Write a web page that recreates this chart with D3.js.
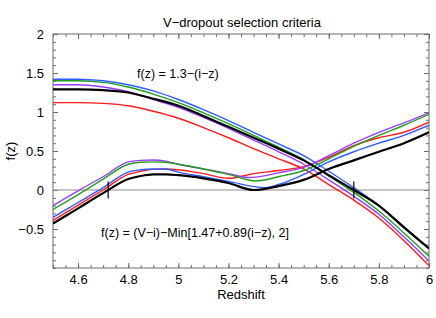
<!DOCTYPE html>
<html><head><meta charset="utf-8">
<script src="https://cdn.jsdelivr.net/npm/d3@7/dist/d3.min.js"></script>
<style>
body{margin:0;background:#fff;}
svg text{font-family:"Liberation Sans",Arial,Helvetica,sans-serif;fill:#000;}
</style></head>
<body><svg id="c" width="436" height="318"></svg>
<script>
// ---- data ----
const title = "V\u2212dropout selection criteria";
const xLabel = "Redshift";
const yLabel = "f(z)";
const xTicks = [4.6, 4.8, 5, 5.2, 5.4, 5.6, 5.8, 6];
const yTicks = [-0.5, 0, 0.5, 1, 1.5, 2];
const labelUpper = "f(z) = 1.3\u2212(i\u2212z)";
const labelLower = "f(z) = (V\u2212i)\u2212Min[1.47+0.89(i\u2212z), 2]";

// upper family: f = 1.3-(i-z)  [z, f]
const upperRed    = [[4.5,1.12],[4.6,1.12],[4.7,1.11],[4.8,1.08],[4.9,1.01],[5.0,0.92],[5.1,0.80],[5.2,0.67],[5.3,0.53],[5.4,0.40],[5.5,0.27],[5.6,0.07],[5.7,-0.13],[5.8,-0.36],[5.9,-0.65],[6.0,-0.97]];
const upperPurple = [[4.5,1.35],[4.6,1.35],[4.7,1.32],[4.8,1.26],[4.9,1.16],[5.0,1.06],[5.1,0.93],[5.2,0.79],[5.3,0.64],[5.4,0.49],[5.5,0.33],[5.6,0.13],[5.7,-0.08],[5.8,-0.31],[5.9,-0.60],[6.0,-0.91]];
const upperGreen  = [[4.5,1.40],[4.6,1.40],[4.7,1.38],[4.8,1.32],[4.9,1.23],[5.0,1.12],[5.1,0.99],[5.2,0.85],[5.3,0.70],[5.4,0.55],[5.5,0.39],[5.6,0.18],[5.7,-0.03],[5.8,-0.27],[5.9,-0.55],[6.0,-0.85]];
const upperBlue   = [[4.5,1.42],[4.6,1.42],[4.7,1.40],[4.8,1.35],[4.9,1.27],[5.0,1.16],[5.1,1.03],[5.2,0.89],[5.3,0.74],[5.4,0.59],[5.5,0.44],[5.6,0.24],[5.7,0.03],[5.8,-0.20],[5.9,-0.47],[6.0,-0.75]];
const upperBlack  = [[4.5,1.29],[4.6,1.29],[4.7,1.28],[4.8,1.25],[4.9,1.17],[5.0,1.08],[5.1,0.95],[5.2,0.81],[5.3,0.67],[5.4,0.53],[5.5,0.38],[5.6,0.19],[5.7,0.0],[5.8,-0.20],[5.9,-0.48],[6.0,-0.75]];

// lower family: f = (V-i)-Min[1.47+0.89(i-z),2]  [z, f]
const lowerRed    = [[4.5,-0.39],[4.6,-0.195],[4.7,0.0],[4.8,0.20],[4.85,0.24],[4.9,0.265],[4.95,0.27],[5.0,0.26],[5.1,0.21],[5.2,0.15],[5.3,0.21],[5.4,0.25],[5.5,0.30],[5.6,0.42],[5.7,0.57],[5.8,0.67],[5.9,0.74],[6.0,0.87]];
const lowerPurple = [[4.5,-0.20],[4.6,-0.01],[4.7,0.17],[4.8,0.36],[4.85,0.38],[4.9,0.385],[4.95,0.37],[5.0,0.33],[5.1,0.27],[5.2,0.21],[5.28,0.16],[5.4,0.22],[5.5,0.29],[5.6,0.44],[5.7,0.60],[5.8,0.74],[5.9,0.86],[6.0,0.99]];
const lowerGreen  = [[4.5,-0.25],[4.6,-0.06],[4.7,0.14],[4.8,0.33],[4.85,0.355],[4.9,0.36],[4.95,0.355],[5.0,0.33],[5.1,0.27],[5.2,0.20],[5.31,0.115],[5.4,0.17],[5.5,0.25],[5.6,0.40],[5.7,0.56],[5.8,0.70],[5.9,0.83],[6.0,0.97]];
const lowerBlue   = [[4.5,-0.35],[4.6,-0.16],[4.7,0.03],[4.8,0.23],[4.85,0.26],[4.9,0.27],[4.95,0.27],[5.0,0.23],[5.1,0.17],[5.2,0.11],[5.346,0.03],[5.4,0.07],[5.5,0.20],[5.6,0.36],[5.7,0.49],[5.8,0.60],[5.9,0.70],[6.0,0.83]];
const lowerBlack  = [[4.5,-0.43],[4.6,-0.235],[4.7,-0.04],[4.8,0.14],[4.85,0.18],[4.9,0.20],[4.95,0.20],[5.0,0.19],[5.1,0.15],[5.2,0.09],[5.3,0.0],[5.4,0.05],[5.5,0.13],[5.6,0.27],[5.7,0.38],[5.8,0.49],[5.9,0.60],[6.0,0.74]];

// vertical marker bars [z, fLow, fHigh]
const markers = [[4.72,-0.11,0.11],[5.70,-0.11,0.11]];

const seriesColors = {red:"#ff1a1a", purple:"#9a3cff", green:"#1ea01e", blue:"#2f5cff", black:"#000000"};

// ---- chart ----
const svg = d3.select("#c");
const x = d3.scaleLinear().domain([4.5, 6]).range([53, 429]);
const y = d3.scaleLinear().domain([-1, 2]).range([268, 34]);
const frameColor = "#6b6b6b";

// minor ticks
const xMinor = d3.range(4.5, 6.0001, 0.05).map(v => +v.toFixed(2));
const yMinor = d3.range(-1, 2.0001, 0.1).map(v => +v.toFixed(1));

function styleAxis(g){
  g.select(".domain").remove();
  g.selectAll(".tick line").attr("stroke", frameColor).attr("stroke-width", 1);
  g.selectAll(".tick text").attr("font-size", 13).attr("font-family", '"Liberation Sans",Arial,sans-serif').attr("fill","#000");
}
// bottom
svg.append("g").attr("transform","translate(0,268)")
  .call(d3.axisBottom(x).tickValues(xMinor).tickSize(-3).tickFormat(""))
  .call(styleAxis);
svg.append("g").attr("transform","translate(0,268)")
  .call(d3.axisBottom(x).tickValues(xTicks).tickSize(-5).tickPadding(7).tickFormat(d3.format("")))
  .call(styleAxis);
// top
svg.append("g").attr("transform","translate(0,34)")
  .call(d3.axisTop(x).tickValues(xMinor).tickSize(-3).tickFormat(""))
  .call(styleAxis);
svg.append("g").attr("transform","translate(0,34)")
  .call(d3.axisTop(x).tickValues(xTicks).tickSize(-5).tickFormat(""))
  .call(styleAxis);
// left
svg.append("g").attr("transform","translate(53,0)")
  .call(d3.axisLeft(y).tickValues(yMinor).tickSize(-3).tickFormat(""))
  .call(styleAxis);
svg.append("g").attr("transform","translate(53,0)")
  .call(d3.axisLeft(y).tickValues(yTicks).tickSize(-5).tickPadding(9).tickFormat(d => d3.format("")(d).replace("-", "\u2212")))
  .call(styleAxis);
// right
svg.append("g").attr("transform","translate(429,0)")
  .call(d3.axisRight(y).tickValues(yMinor).tickSize(-3).tickFormat(""))
  .call(styleAxis);
svg.append("g").attr("transform","translate(429,0)")
  .call(d3.axisRight(y).tickValues(yTicks).tickSize(-5).tickFormat(""))
  .call(styleAxis);

// frame
svg.append("rect").attr("x", x(4.5)).attr("y", y(2)).attr("width", x(6)-x(4.5)).attr("height", y(-1)-y(2))
  .attr("fill","none").attr("stroke", frameColor).attr("stroke-width", 1);

// zero line
svg.append("line").attr("x1", x(4.5)).attr("x2", x(6)).attr("y1", y(0)).attr("y2", y(0))
  .attr("stroke","#8c8c8c").attr("stroke-width",1);

svg.append("clipPath").attr("id","pc").append("rect")
  .attr("x", x(4.5)).attr("y", y(2)).attr("width", x(6)-x(4.5)).attr("height", y(-1)-y(2));

const line = d3.line().x(d => x(d[0])).y(d => y(d[1])).curve(d3.curveMonotoneX);
const plotG = svg.append("g").attr("clip-path","url(#pc)");
const series = [
  [upperRed,"red"],[upperPurple,"purple"],[upperGreen,"green"],[upperBlue,"blue"],
  [lowerRed,"red"],[lowerPurple,"purple"],[lowerGreen,"green"],[lowerBlue,"blue"],
  [upperBlack,"black"],[lowerBlack,"black"]
];
series.forEach(([data, c]) => {
  plotG.append("path").attr("d", line(data)).attr("fill","none")
    .attr("stroke", seriesColors[c]).attr("stroke-width", c === "black" ? 2.2 : 1.4)
    .attr("stroke-linejoin","round");
});

// markers
svg.selectAll(".mk").data(markers).join("line").attr("class","mk")
  .attr("x1", d => x(d[0])).attr("x2", d => x(d[0]))
  .attr("y1", d => y(d[1])).attr("y2", d => y(d[2]))
  .attr("stroke","#000").attr("stroke-width",1.2);

// texts
svg.append("text").attr("x", 242).attr("y", 27).attr("text-anchor","middle").attr("font-size",13).text(title);
svg.append("text").attr("x", x(5.25)).attr("y", 299).attr("text-anchor","middle").attr("font-size",13).text(xLabel);
svg.append("text").attr("transform","translate(15,151) rotate(-90)").attr("text-anchor","middle").attr("font-size",13).text(yLabel);
svg.append("text").attr("x", 137).attr("y", 78).attr("font-size",12.5).text(labelUpper);
svg.append("text").attr("x", 101).attr("y", 237).attr("font-size",12.5).text(labelLower);
</script></body></html>
